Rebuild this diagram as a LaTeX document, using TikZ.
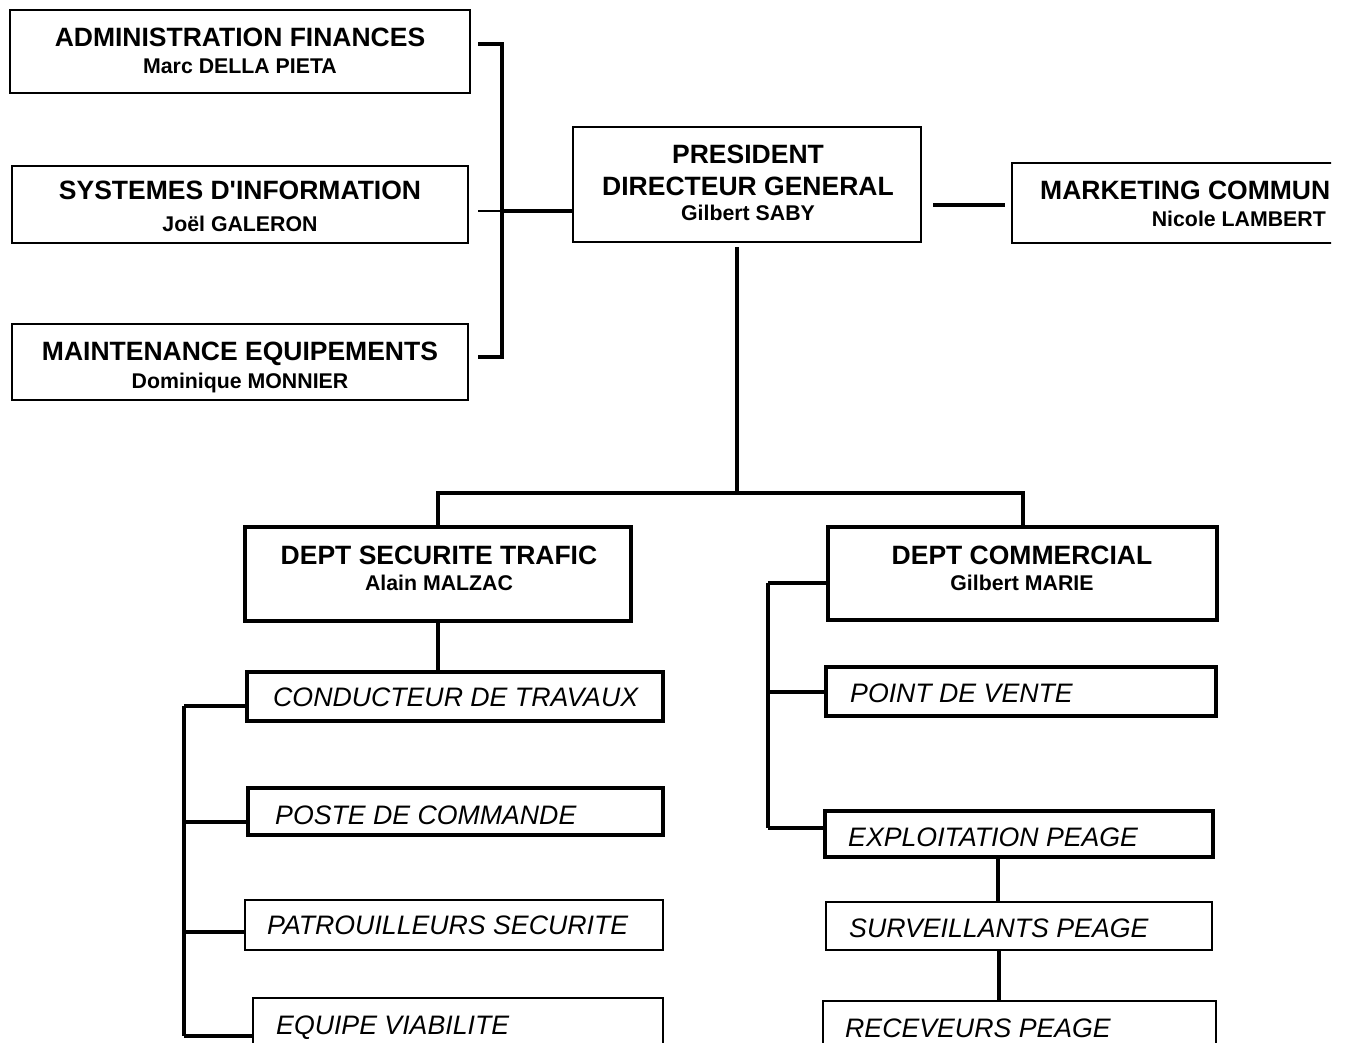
\documentclass[tikz,border=0pt]{standalone}
\usepackage{fontspec}
\setmainfont{Liberation Sans}
\begin{document}
\begin{tikzpicture}[x=1pt,y=-1pt,
  thinbox/.style={draw, line width=1.5pt, inner sep=0pt, rectangle},
  thickbox/.style={draw, line width=4pt, inner sep=0pt, rectangle},
  conn/.style={line width=4pt},
  thinconn/.style={line width=1.5pt},
  ttl/.style={font=\fontsize{26.5}{30}\selectfont\bfseries, anchor=base, inner sep=0pt},
  nm/.style={font=\fontsize{21.3}{25}\selectfont\bfseries, anchor=base, inner sep=0pt},
  itl/.style={font=\fontsize{26.7}{30}\selectfont\itshape, anchor=base west, inner sep=0pt}]
\clip (0,0) rectangle (1347,1043);
\fill[white] (0,0) rectangle (1347,1043);

% ---- top left boxes
\node[thinbox, minimum width=460pt, minimum height=83pt] (af) at (240,51.5) {};
\node[ttl] (af-t) at (240,46.3) {ADMINISTRATION FINANCES};
\node[nm] (af-n) at (240,73.5) {Marc DELLA PIETA};

\node[thinbox, minimum width=456pt, minimum height=77pt] (si) at (240,204.5) {};
\node[ttl] (si-t) at (240,199.3) {SYSTEMES D\textquotesingle INFORMATION};
\node[nm] (si-n) at (240,231.5) {Joël GALERON};

\node[thinbox, minimum width=456pt, minimum height=76pt] (me) at (240,362) {};
\node[ttl] (me-t) at (240,360.3) {MAINTENANCE EQUIPEMENTS};
\node[nm] (me-n) at (240,388.5) {Dominique MONNIER};

% ---- president
\node[thinbox, minimum width=348pt, minimum height=115pt] (pdg) at (747,184.5) {};
\node[ttl] (pdg-t1) at (748,163.3) {PRESIDENT};
\node[ttl] (pdg-t2) at (748,195.3) {DIRECTEUR GENERAL};
\node[nm] (pdg-n) at (748,221) {Gilbert SABY};

% ---- marketing (cut at the right edge)
\begin{scope}
\clip (0,0) rectangle (1331,1043);
\node[thinbox, minimum width=468pt, minimum height=80pt] (mc) at (1246,203) {};
\node[ttl, anchor=base west] (mc-t) at (1040,199.3) {MARKETING COMMUN};
\node[nm, anchor=base east] (mc-n) at (1326,226.5) {Nicole LAMBERT};
\end{scope}

% ---- bracket of staff boxes
\coordinate (b1) at (478,44);
\coordinate (b2) at (478,357);
\coordinate (bm) at (478,211);
\coordinate (bx) at (502,211);
\draw[conn] (b1) -- ++(24,0) -- ++(0,313) -- (b2);
\draw[thinconn] (bm) -- (bx);
\draw[conn] (bx) -- (bx -| pdg.west);

\coordinate (r1) at (933,205);
\coordinate (r2) at (1005,205);
\draw[conn] (r1) -- (r2);

% ---- departments
\node[thickbox, minimum width=386pt, minimum height=94pt] (dst) at (438,574) {};
\node[ttl] (dst-t) at (439,564.3) {DEPT SECURITE TRAFIC};
\node[nm] (dst-n) at (439,590.5) {Alain MALZAC};

\node[thickbox, minimum width=389pt, minimum height=93pt] (dc) at (1022.5,573.5) {};
\node[ttl] (dc-t) at (1022,564.3) {DEPT COMMERCIAL};
\node[nm] (dc-n) at (1022,590.5) {Gilbert MARIE};

\coordinate (ps) at (737,247);
\coordinate (hy) at (737,493);
\draw[conn] (ps) -- (hy);
\draw[conn] (dst.north) |- (hy) -| (dc.north);

% ---- left column
\node[thickbox, minimum width=416pt, minimum height=49pt] (ct) at (455,696.5) {};
\node[itl] (ct-t) at (273,706.3) {CONDUCTEUR DE TRAVAUX};
\node[thickbox, minimum width=415pt, minimum height=47pt] (pc) at (455.5,811.5) {};
\node[itl] (pc-t) at (275,824.3) {POSTE DE COMMANDE};
\node[thinbox, minimum width=418pt, minimum height=50pt] (pa) at (454,925) {};
\node[itl] (pa-t) at (267,934.3) {PATROUILLEURS SECURITE};
\node[thinbox, minimum width=410pt, minimum height=62pt] (ev) at (458,1029) {};
\node[itl] (ev-t) at (276,1034.3) {EQUIPE VIABILITE};

\draw[conn] (dst.south) -- (dst.south |- ct.north);
\coordinate (l1) at (184,706);
\coordinate (l2) at (184,822);
\coordinate (l3) at (184,932);
\coordinate (l4) at (184,1036);
\draw[conn] (l1) -- (l4);
\draw[conn] (l1) -- (l1 -| ct.west);
\draw[conn] (l2) -- (l2 -| pc.west);
\draw[conn] (l3) -- (l3 -| pa.west);
\draw[conn] (l4) -- (l4 -| ev.west);

% ---- right column
\node[thickbox, minimum width=390pt, minimum height=49pt] (pv) at (1021,691.5) {};
\node[itl] (pv-t) at (850,702.3) {POINT DE VENTE};
\node[thickbox, minimum width=388pt, minimum height=46pt] (ep) at (1019,834) {};
\node[itl] (ep-t) at (848,846.3) {EXPLOITATION PEAGE};
\node[thinbox, minimum width=386pt, minimum height=48pt] (sp) at (1019,926) {};
\node[itl] (sp-t) at (849,937.3) {SURVEILLANTS PEAGE};
\node[thinbox, minimum width=393pt, minimum height=59pt] (rp) at (1019.5,1030.5) {};
\node[itl] (rp-t) at (845,1037.3) {RECEVEURS PEAGE};

\coordinate (c1) at (768,583);
\coordinate (c2) at (768,692);
\coordinate (c3) at (768,828);
\draw[conn] (c1) -- (c3);
\draw[conn] (c1) -- (c1 -| dc.west);
\draw[conn] (c2) -- (c2 -| pv.west);
\draw[conn] (c3) -- (c3 -| ep.west);

\draw[conn] ([xshift=-21pt]ep.south) -- ([xshift=-21pt]ep.south |- sp.north);
\draw[conn] ([xshift=-20pt]sp.south) -- ([xshift=-20pt]sp.south |- rp.north);
\end{tikzpicture}
\end{document}
